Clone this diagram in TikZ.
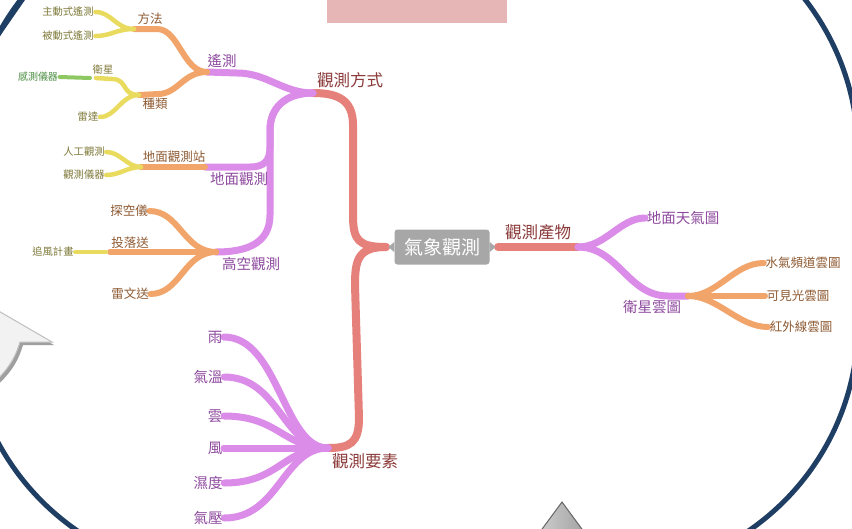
\documentclass[tikz,border=0pt]{standalone}
\usepackage{fontspec}
\setmainfont{Noto Sans CJK TC}
\usetikzlibrary{calc}
\definecolor{frameblue}{HTML}{1F3E64}
\definecolor{salmon}{HTML}{E5807A}
\definecolor{pinkl}{HTML}{DB8BE8}
\definecolor{orangel}{HTML}{F2A56A}
\definecolor{yellowl}{HTML}{E9DB5E}
\definecolor{greenl}{HTML}{8DC863}
\definecolor{salmontx}{HTML}{8C3B3B}
\definecolor{pinktx}{HTML}{8E4A9E}
\definecolor{orangetx}{HTML}{8E5A32}
\definecolor{yellowtx}{HTML}{7F7A3A}
\definecolor{greentx}{HTML}{4F8F45}
\definecolor{pinkrect}{HTML}{E6B6B6}
\definecolor{rootgray}{HTML}{A7A7A7}
\pgfdeclarelayer{deco}
\pgfdeclarelayer{lines}
\pgfsetlayers{deco,lines,main}
\tikzset{
  lbl/.style={inner sep=1.5pt, font=\fontsize{#1}{#1}\selectfont},
  tone/.style={lbl=16.5, text=salmontx},
  ttwo/.style={lbl=14.5, text=pinktx},
  tthree/.style={lbl=12.5, text=orangetx},
  tfour/.style={lbl=10.3, text=yellowtx},
  tfive/.style={lbl=10, text=greentx},
  rootbox/.style={fill=rootgray, rounded corners=3pt, text=white, minimum width=95pt, minimum height=35pt, inner sep=0pt, font=\fontsize{19}{19}\selectfont},
  notch/.style={fill=rootgray},
  bsal/.style={draw=salmon, line width=8pt, line cap=round},
  bpink/.style={draw=pinkl, line width=7pt, line cap=round},
  borange/.style={draw=orangel, line width=6pt, line cap=round},
  byellow/.style={draw=yellowl, line width=4.5pt, line cap=round},
  bgreen/.style={draw=greenl, line width=4pt, line cap=round},
  frame/.style={draw=frameblue, line width=5pt},
}
\begin{document}
\begin{tikzpicture}[x=1pt,y=-1pt]
\useasboundingbox (0,0) rectangle (852,528);
\begin{pgfonlayer}{deco}
\clip (0,0) rectangle (852,528);
\fill[white] (0,0) rectangle (852,528);
\fill[pinkrect] (327,0) rectangle (507,23);
\draw[frame] (220,-98) -- (606,-98) arc[start angle=-90, end angle=0, radius=252]
  -- (858,323) arc[start angle=0, end angle=90, radius=252]
  -- (220,575) arc[start angle=90, end angle=180, radius=252]
  -- (-32,154) arc[start angle=180, end angle=270, radius=252] -- cycle;
\draw[frame] (-3,36) -- (24,-3);
% left callout tail
\fill[gray!75] (-60,280) -- (54,345) -- (23,345) .. controls (17,365) and (8,378) .. (-20,400) -- cycle;
\filldraw[fill=black!5, draw=black!25, line width=1pt] (-60,277) -- (52,342) -- (20,342) .. controls (14,362) and (5,375) .. (-23,397) -- cycle;
% bottom triangle
\shade[left color=black!18, right color=black!38, draw=black!60, line width=1pt] (562,502) -- (590,540) -- (534,540) -- cycle;
\end{pgfonlayer}

% ---------- nodes ----------
\node[rootbox] (root) at (442,247) {氣象觀測};
\fill[notch] (root.west) ++(0,-5) -- ++(-6,5) -- ++(6,5) -- cycle;
\fill[notch] (root.east) ++(0,-5) -- ++(6,5) -- ++(-6,5) -- cycle;
\coordinate (rootL) at (386,247);
\coordinate (rootR) at (498,247);
\coordinate (fsJ) at (313,93);
\coordinate (ysJ) at (328,448);
\coordinate (cpJ) at (578,247);
\node[tone] (fs) at (350,80) {觀測方式};
\node[tone] (ys) at (365,461) {觀測要素};
\node[tone] (cp) at (538,232) {觀測產物};

\coordinate (yJ) at (207,72);
\coordinate (dJ) at (205,167);
\coordinate (gJ) at (216,252);
\node[ttwo] (yc) at (222,61) {遙測};
\node[ttwo] (dm) at (239,179) {地面觀測};
\node[ttwo] (gk) at (251,264) {高空觀測};

\coordinate (ffJ) at (134,29);
\coordinate (zlJ) at (139,95);
\node[tthree] (ff) at (150,19) {方法};
\node[tthree] (zl) at (155,104) {種類};

\node[tfour] (zd) at (68,12) {主動式遙測};
\node[tfour] (bd) at (68,36) {被動式遙測};
\node[tfour] (ws) at (103,70) {衛星};
\coordinate (wsE) at (96,78);
\node[tfour] (ld) at (88,117) {雷達};
\node[tfive] (gy) at (38,77) {感測儀器};

\coordinate (dzJ) at (141,167);
\node[tthree] (dz) at (174,157) {地面觀測站};
\node[tfour] (rg) at (84,152) {人工觀測};
\node[tfour] (gq) at (84,175) {觀測儀器};

\node[tthree] (tk) at (129,211) {探空儀};
\node[tthree] (tl) at (130,243) {投落送};
\coordinate (tlJ) at (110,252);
\node[tthree] (lw) at (130,294) {雷文送};
\node[tfour] (zf) at (53,252) {追風計畫};

\node[ttwo] (e1) at (215,337) {雨};
\node[ttwo] (e2) at (208,377) {氣溫};
\node[ttwo] (e3) at (215,416) {雲};
\node[ttwo] (e4) at (215,448) {風};
\node[ttwo] (e5) at (208,483) {濕度};
\node[ttwo] (e6) at (208,518) {氣壓};

\node[ttwo] (dt) at (683,218) {地面天氣圖};
\coordinate (wxJ) at (688,296);
\node[ttwo] (wx) at (652,307) {衛星雲圖};
\node[tthree] (sq) at (803,263) {水氣頻道雲圖};
\node[tthree] (kj) at (798,296) {可見光雲圖};
\node[tthree] (hw) at (801,327) {紅外線雲圖};

% ---------- connectors ----------
\begin{pgfonlayer}{lines}
% salmon
\draw[bsal] (rootL) .. controls +(-28,0) and +(0,25) .. (353,215) -- (353,125) .. controls +(0,-25) and +(25,0) .. (fsJ);
\draw[bsal] (rootL) .. controls +(-28,0) and +(0,-25) .. (355,285) -- (359,418) .. controls +(0,25) and +(22,0) .. (ysJ);
\draw[bsal] (rootR) -- (cpJ);
% pink (left)
\draw[bpink] (fsJ) .. controls +(-30,0) and +(30,0) .. (237,73) -- (yJ);
\draw[bpink] (fsJ) .. controls +(-28,0) and +(0,-22) .. (270,130) -- (270,147) .. controls +(0,14) and +(14,0) .. (250,167) -- (dJ);
\draw[bpink] (fsJ) .. controls +(-28,0) and +(0,-22) .. (270,130) -- (270,215) .. controls +(0,30) and +(28,0) .. (gJ);
% orange under 遙測
\draw[borange] (yJ) .. controls +(-24,0) and +(22,0) .. (157,29) -- (ffJ);
\draw[borange] (yJ) .. controls +(-24,0) and +(20,0) .. (158,94) -- (zlJ);
% yellow
\draw[byellow] (ffJ) .. controls +(-18,0) and +(16,0) .. (zd.east);
\draw[byellow] (ffJ) .. controls +(-18,0) and +(16,0) .. (bd.east);
\draw[byellow] (zlJ) .. controls +(-18,0) and +(16,0) .. (112,79) -- (wsE);
\draw[byellow] (zlJ) .. controls +(-18,0) and +(16,0) .. (ld.east);
\draw[bgreen] ([xshift=-6pt]wsE) -- (gy.east);
% ground station
\draw[borange] (dJ) -- (dzJ);
\draw[byellow] (dzJ) .. controls +(-14,0) and +(14,0) .. (rg.east);
\draw[byellow] (dzJ) .. controls +(-14,0) and +(14,0) .. (gq.east);
% upper air
\draw[borange] (gJ) .. controls +(-32,0) and +(30,0) .. (tk.east);
\draw[borange] (gJ) -- (tlJ);
\draw[borange] (gJ) .. controls +(-32,0) and +(30,0) .. (lw.east);
\draw[byellow] ([xshift=-4pt]tlJ) -- (zf.east);
% elements
\foreach \e in {e1,e2,e3,e4,e5,e6}
  \draw[bpink] (ysJ) .. controls +(-45,0) and +(55,0) .. (\e.east);
% products
\draw[bpink] (cpJ) .. controls +(28,0) and +(-25,0) .. (dt.west);
\draw[bpink] (cpJ) .. controls +(40,0) and +(-40,0) .. (668,296) -- (wxJ);
\draw[borange] (wxJ) .. controls +(30,0) and +(-30,0) .. (sq.west);
\draw[borange] (wxJ) -- (kj.west);
\draw[borange] (wxJ) .. controls +(30,0) and +(-30,0) .. (hw.west);
\end{pgfonlayer}
\end{tikzpicture}
\end{document}
